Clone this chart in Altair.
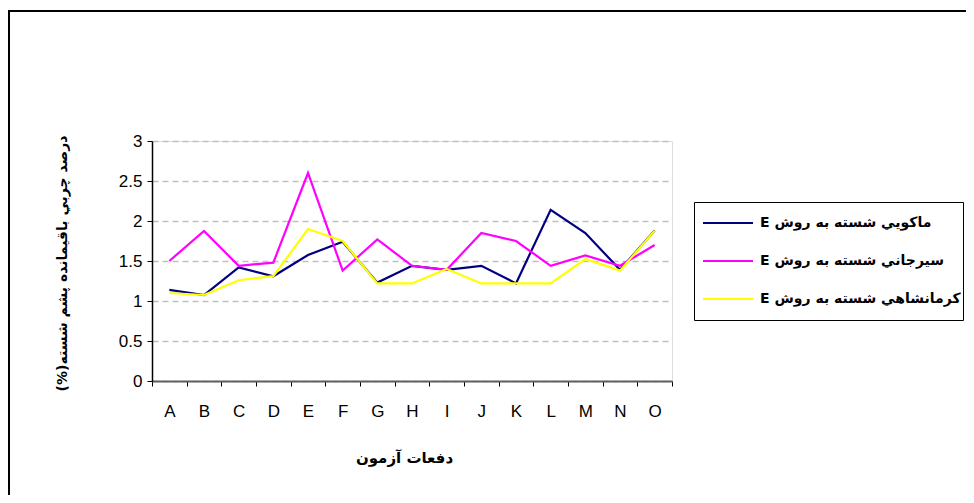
import altair as alt
import pandas as pd

categories = list("ABCDEFGHIJKLMNO")
series_names = [
    "ماكويي شسته به روش E",
    "سيرجاني شسته به روش E",
    "كرمانشاهي شسته به روش E",
]
makooei = [1.14, 1.075, 1.42, 1.31, 1.575, 1.74, 1.23, 1.44, 1.39, 1.44, 1.22, 2.14, 1.85, 1.39, 1.88]
sirjani = [1.50, 1.875, 1.44, 1.48, 2.60, 1.38, 1.77, 1.44, 1.39, 1.85, 1.75, 1.44, 1.57, 1.44, 1.70]
kermanshahi = [1.10, 1.075, 1.26, 1.31, 1.90, 1.75, 1.22, 1.22, 1.40, 1.22, 1.22, 1.22, 1.525, 1.38, 1.88]
colors = ["#000080", "#FF00FF", "#FFFF00"]
y_ticks = [0, 0.5, 1, 1.5, 2, 2.5, 3]

x_title = "دفعات آزمون"
y_title = "\u202bدرصد چربي باقيمانده پشم شسته(%)\u202c"

rows = []
for name, vals in zip(series_names, [makooei, sirjani, kermanshahi]):
    for c, v in zip(categories, vals):
        rows.append({"series": name, "test": c, "value": v})
df = pd.DataFrame(rows)

FONT = "Liberation Sans"

lines = alt.Chart(df).mark_line(strokeWidth=2.2).encode(
    x=alt.X(
        "test:N",
        sort=categories,
        bandPosition=0.5,
        scale=alt.Scale(type="band", paddingInner=0, paddingOuter=0),
        axis=alt.Axis(
            title=x_title,
            labelAngle=0,
            labelFont=FONT,
            labelFontSize=17,
            labelColor="black",
            labelPadding=17,
            tickBand="extent",
            tickSize=5,
            tickColor="black",
            domainColor="#606060",
            domainWidth=2,
            grid=False,
            titleFont="DejaVu Sans",
            titleFontSize=15,
            titleFontWeight="bold",
            titleColor="black",
            titleX=252,
            titleY=76,
            titleBaseline="middle",
            titleAlign="center",
        ),
    ),
    y=alt.Y(
        "value:Q",
        scale=alt.Scale(domain=[0, 3], nice=False),
        axis=alt.Axis(
            title=y_title,
            values=y_ticks,
            format=".1~f",
            labelFont=FONT,
            labelFontSize=17,
            labelColor="black",
            labelPadding=5,
            tickSize=5,
            tickColor="black",
            domainColor="black",
            domainWidth=1.5,
            grid=True,
            gridColor="#c0c0c0",
            gridDash=[6, 4],
            gridWidth=1.5,
            titleFont="DejaVu Sans",
            titleFontSize=14,
            titleFontWeight="bold",
            titleColor="black",
            titleAngle=270,
            titleX=-90,
            titleY=122,
            titleBaseline="middle",
            titleAlign="center",
        ),
    ),
    color=alt.Color(
        "series:N",
        sort=series_names,
        scale=alt.Scale(domain=series_names, range=colors),
        legend=alt.Legend(
            title=None,
            orient="none",
            legendX=542,
            legendY=61,
            symbolType="stroke",
            symbolSize=2500,
            symbolStrokeWidth=2,
            symbolOffset=6,
            clipHeight=38,
            labelFont="DejaVu Sans",
            labelFontSize=14,
            labelFontWeight="bold",
            labelColor="black",
            labelOffset=6,
            labelLimit=400,
            labelExpr="'\u202b' + datum.label + '\u202c'",
            rowPadding=0,
            padding=2,
            strokeColor="black",
            fillColor="white",
        ),
    ),
)

frame_data = alt.Data(values=[{"k": 1}])
frame_top = alt.Chart(frame_data).mark_rule(color="black", strokeWidth=2).encode(
    x=alt.value(-143), x2=alt.value(822), y=alt.value(-130)
)
frame_left = alt.Chart(frame_data).mark_rule(color="black", strokeWidth=2).encode(
    x=alt.value(-143), y=alt.value(-131), y2=alt.value(380)
)

chart = alt.layer(frame_top, frame_left, lines).properties(
    width=520,
    height=240,
    autosize=alt.AutoSizeParams(type="none"),
    padding={"left": 144, "top": 133, "right": 294, "bottom": 114},
).configure_view(stroke="#808080", strokeWidth=2).configure(background="white")

chart.save("out.html", embed_options={"renderer": "svg", "actions": False})
